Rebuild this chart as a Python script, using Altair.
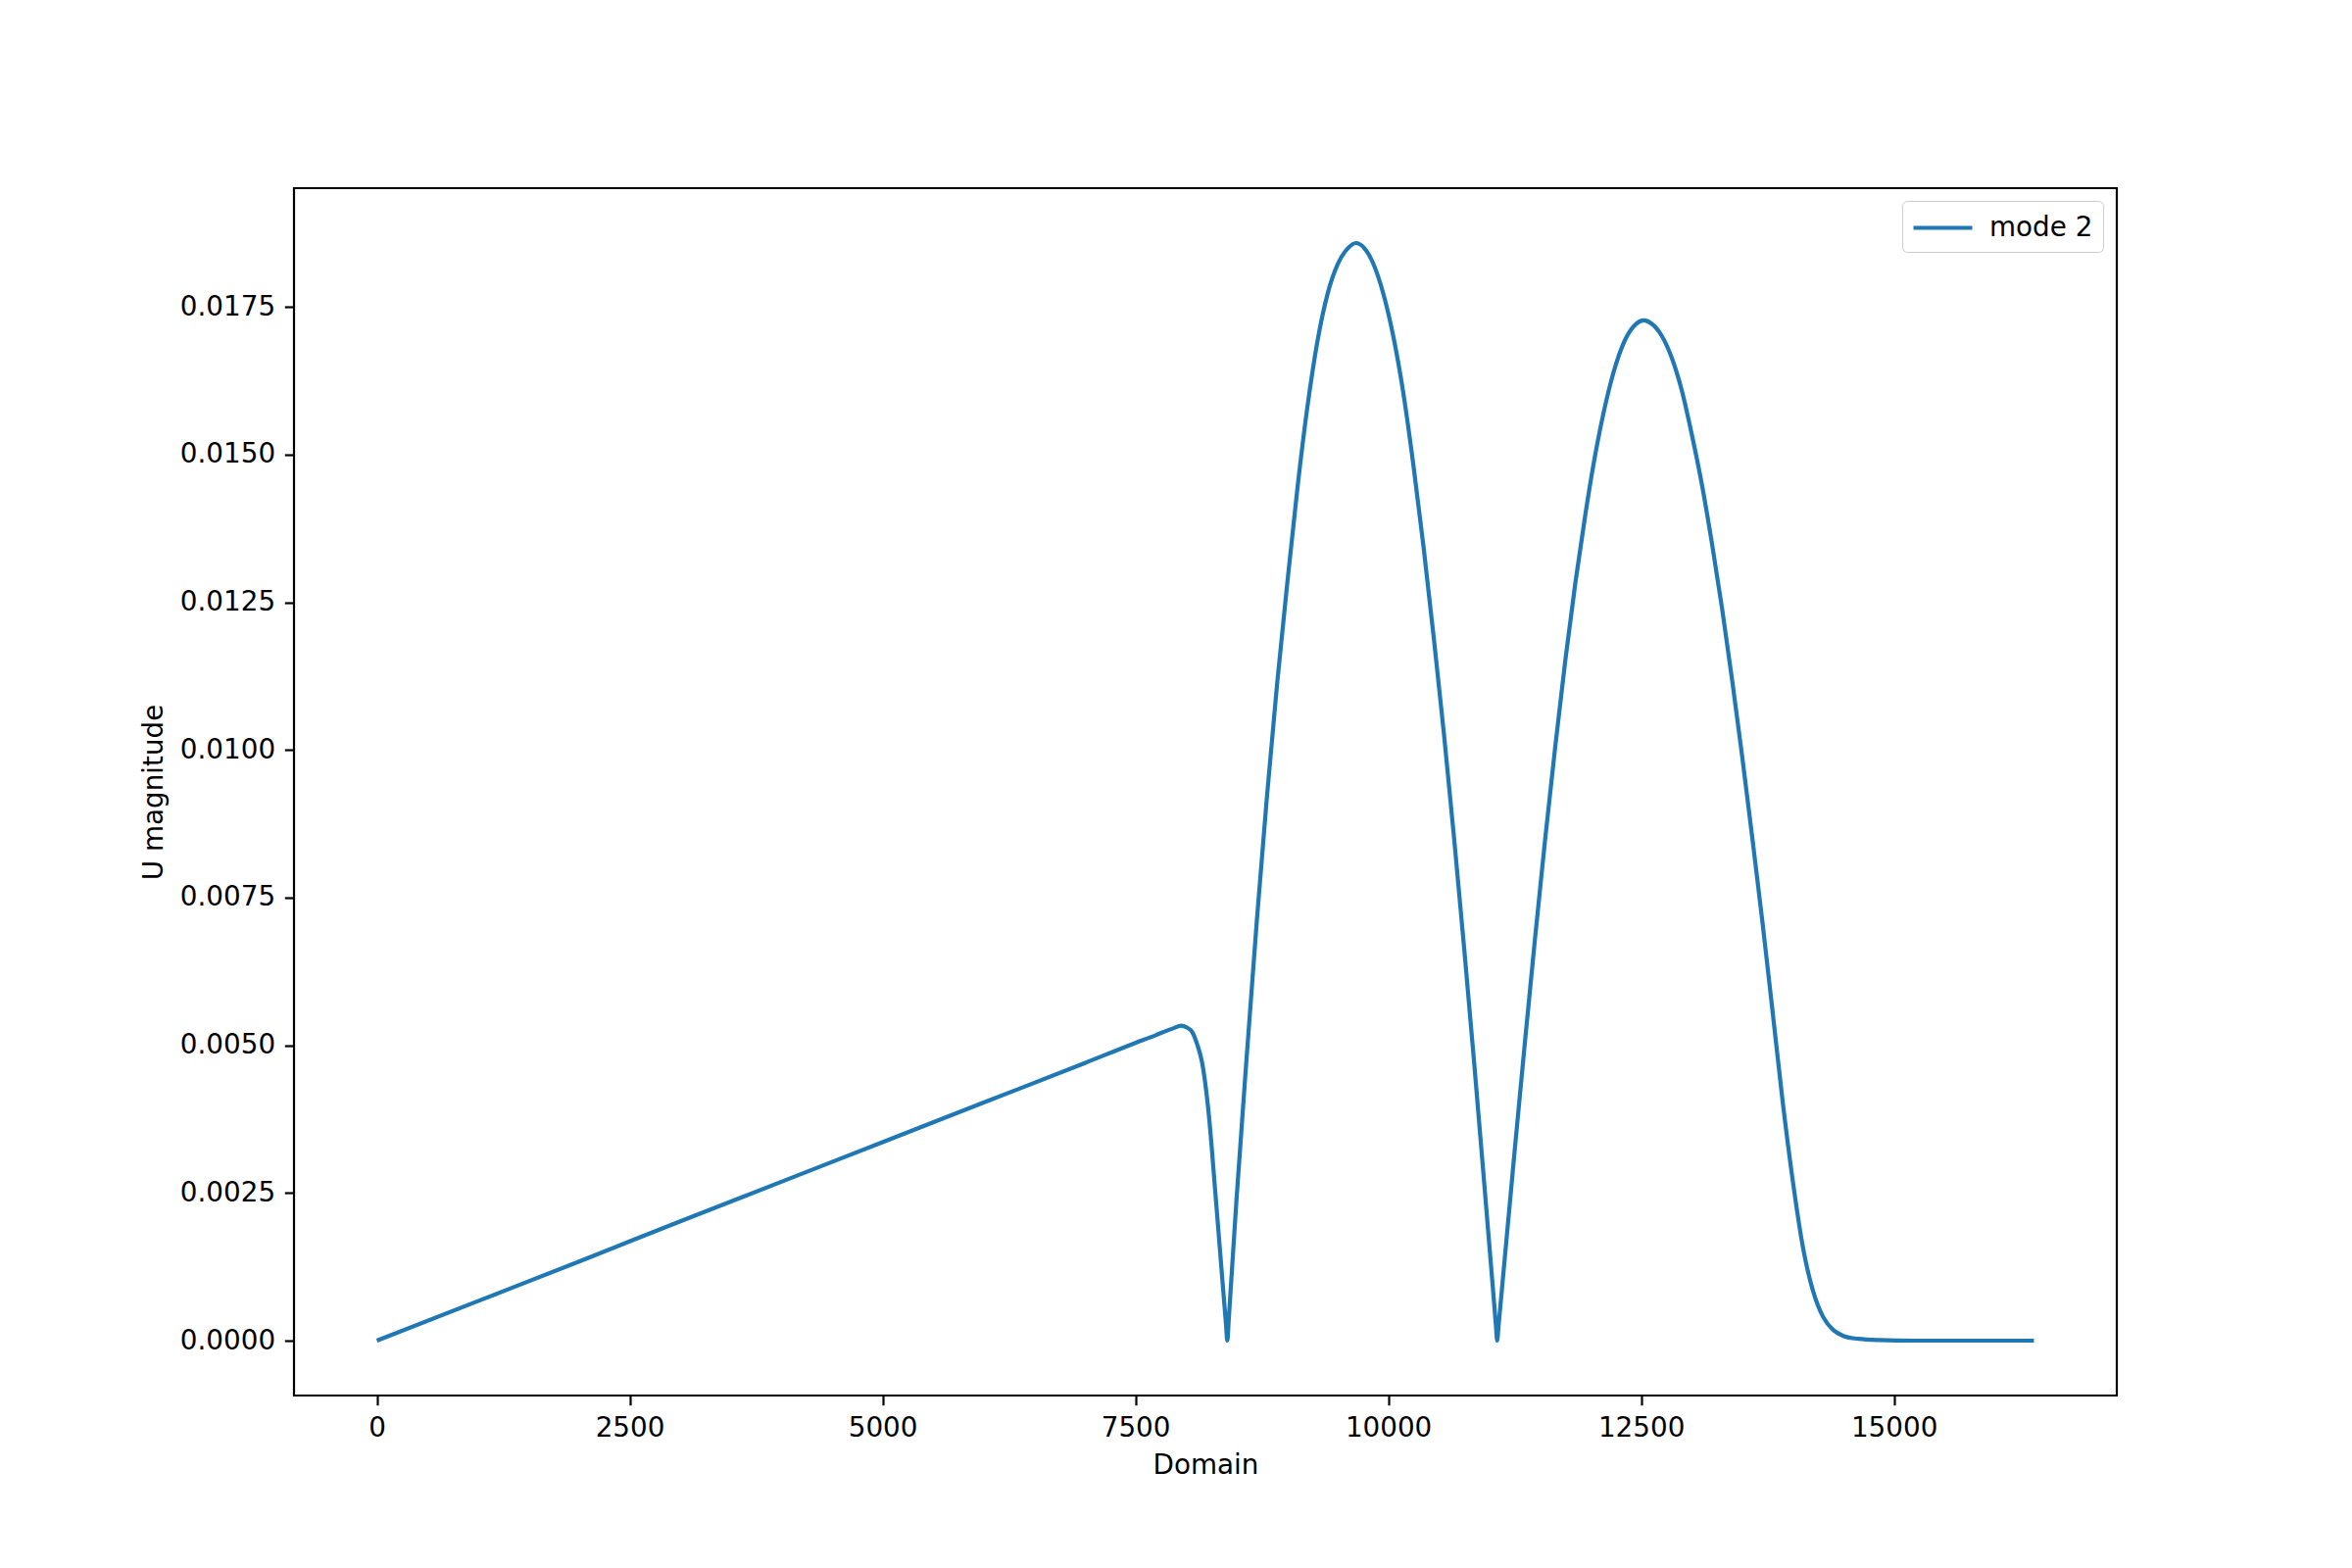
import altair as alt
import pandas as pd

# values
x_vals = [0, 1000, 2000, 3000, 4000, 5000, 6000, 7000, 7500, 7700, 7800, 7880, 7950,
          8010, 8063, 8110, 8160, 8225, 8290, 8355, 8395, 8409, 8423, 8500, 8600, 8700,
          8800, 8900, 9000, 9100, 9200, 9300, 9400, 9500, 9600, 9680, 9760, 9850, 9950,
          10050, 10150, 10250, 10350, 10450, 10550, 10650, 10750, 10850, 10950, 11030,
          11063, 11077, 11091, 11150, 11250, 11350, 11450, 11550, 11650, 11750, 11850,
          11950, 12050, 12150, 12250, 12350, 12450, 12527, 12600, 12700, 12800, 12900,
          13000, 13100, 13200, 13300, 13400, 13500, 13600, 13700, 13800, 13900, 14000,
          14100, 14200, 14300, 14400, 14500, 14650, 14850, 15200, 16384]
y_vals = [0.0, 0.00067, 0.00134, 0.00202, 0.00269, 0.00336, 0.00403, 0.00470, 0.00504,
          0.00517, 0.00524, 0.00529, 0.00533, 0.00530, 0.00522, 0.00502, 0.00470, 0.00384,
          0.00251, 0.00113, 0.00029, 0.0, 0.00036, 0.0024, 0.0048, 0.0071, 0.0092, 0.0111,
          0.0128, 0.0144, 0.0158, 0.01692, 0.01772, 0.01822, 0.01849, 0.01858, 0.01850,
          0.01824, 0.01773, 0.01700, 0.01603, 0.01480, 0.01342, 0.01190, 0.01028, 0.00852,
          0.00665, 0.00469, 0.00264, 0.00098, 0.00029, 0.0, 0.00026, 0.00136, 0.00322,
          0.00503, 0.00679, 0.00847, 0.01004, 0.01151, 0.01283, 0.01400, 0.01503, 0.01587,
          0.01652, 0.01697, 0.01721, 0.01727, 0.01722, 0.01702, 0.01665, 0.01610, 0.01535,
          0.01450, 0.01350, 0.01240, 0.01118, 0.00988, 0.00850, 0.00708, 0.00557, 0.00404,
          0.00270, 0.00158, 0.00084, 0.00040, 0.00018, 0.00008, 0.00003, 0.00001, 0.0, 0.0]
series_name = "mode 2"
x_ticks = [0, 2500, 5000, 7500, 10000, 12500, 15000]
y_ticks = [0.0, 0.0025, 0.005, 0.0075, 0.01, 0.0125, 0.015, 0.0175]

df = pd.DataFrame({"x": x_vals, "y": y_vals, "series": [series_name] * len(x_vals)})

FONT = "DejaVu Sans"
FS = 27.8

x_max = 16384
y_max = 0.01858
x_dom = [-0.05 * x_max, 1.05 * x_max]
y_dom = [-0.05 * y_max, 1.05 * y_max]

axis_common = dict(
    labelFont=FONT, labelFontSize=FS, labelColor="black",
    titleFont=FONT, titleFontSize=FS, titleColor="black", titleFontWeight="normal",
    tickColor="black", tickWidth=2.2, tickSize=9.7, labelPadding=9.7,
    domain=False, grid=False,
)

chart = alt.Chart(df).mark_line(strokeWidth=4.2, clip=True, interpolate="monotone").encode(
    x=alt.X("x:Q", title="Domain",
            scale=alt.Scale(domain=x_dom, nice=False, zero=False),
            axis=alt.Axis(values=x_ticks, format="d", titlePadding=10, **axis_common)),
    y=alt.Y("y:Q", title="U magnitude",
            scale=alt.Scale(domain=y_dom, nice=False, zero=False),
            axis=alt.Axis(values=y_ticks, format=".4f", titlePadding=12, **axis_common)),
    color=alt.Color("series:N", title=None,
                    scale=alt.Scale(domain=[series_name], range=["#1f77b4"]),
                    legend=alt.Legend(
                        orient="none", legendX=1641, legendY=13,
                        symbolType="M-2,0L2,0", symbolSize=900, symbolStrokeWidth=4.2,
                        symbolOffset=14,
                        labelFont=FONT, labelFontSize=FS, labelColor="black",
                        labelOffset=30, padding=10,
                        strokeColor="#cccccc", fillColor="white", cornerRadius=5,
                    )),
).properties(
    width=1860, height=1232,
    autosize=alt.AutoSizeParams(type="none"),
    padding={"left": 292, "top": 184, "right": 232, "bottom": 168},
    background="white",
).configure_view(
    stroke="black", strokeWidth=2.2
)

chart.save("out.html", embed_options={"renderer": "svg", "actions": False})
